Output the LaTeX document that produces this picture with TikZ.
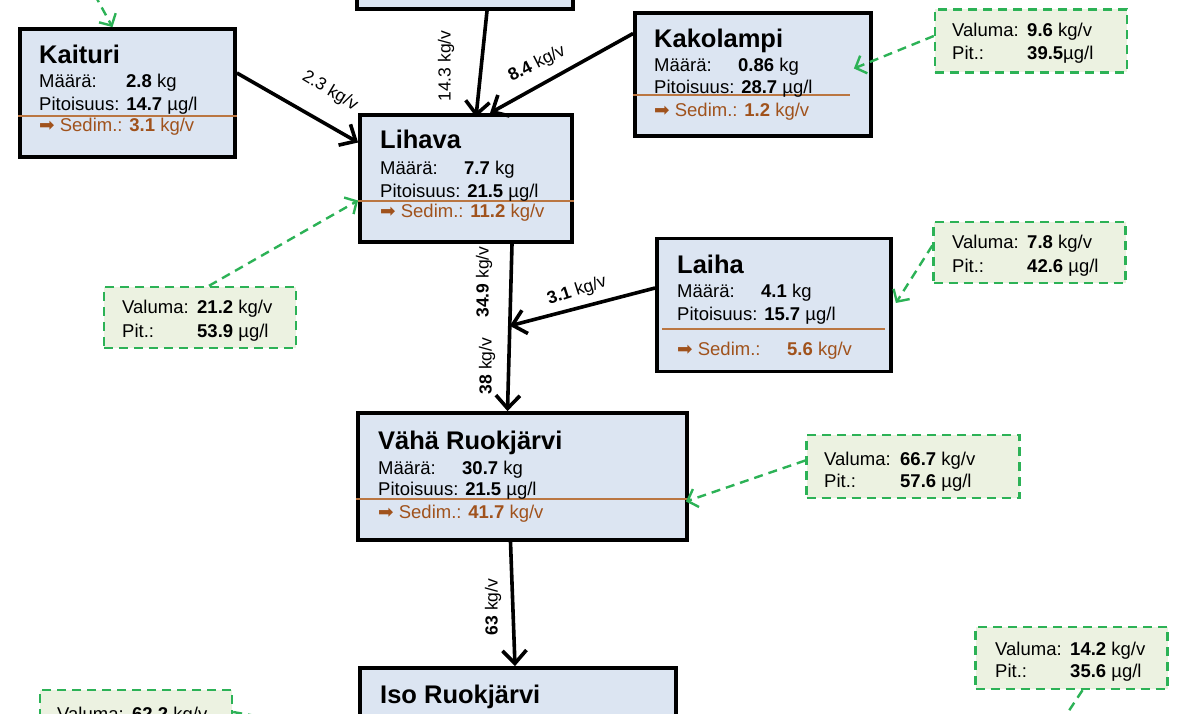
\documentclass[tikz,border=0pt]{standalone}
\usepackage{fontspec}
\setmainfont{Liberation Sans}
\newfontfamily\dingfont{DejaVu Sans}
\usetikzlibrary{arrows.meta,calc}
\definecolor{lakeblue}{RGB}{220,229,242}
\definecolor{sedimbrown}{RGB}{160,82,28}
\definecolor{sedimline}{RGB}{186,118,66}
\definecolor{runoffgreen}{RGB}{44,178,86}
\definecolor{runofffill}{RGB}{236,242,225}
\newcommand{\sedarrow}{{\dingfont ➡}}
\tikzset{
  lake/.style={draw,line width=3.8pt,fill=lakeblue,rectangle,inner sep=0pt},
  runoff/.style={draw=runoffgreen,dash pattern=on 9pt off 6pt,line width=2.4pt,fill=runofffill,rectangle,inner sep=0pt},
  lakename/.style={anchor=base west,inner sep=0pt,font=\fontsize{25.5}{29}\selectfont\bfseries},
  lakeinfo/.style={anchor=base west,inner sep=0pt,font=\fontsize{18.5}{21}\selectfont},
  sedim/.style={lakeinfo,text=sedimbrown},
  sedimrule/.style={sedimline,line width=1.5pt},
  flow/.style={line width=3.6pt,-{Straight Barb[length=13pt,width=24pt]}},
  runoffarrow/.style={runoffgreen,line width=2.4pt,dash pattern=on 9pt off 6pt,-{Straight Barb[length=9pt,width=19pt]}},
  flowlabel/.style={inner sep=0pt,font=\fontsize{17.5}{20}\selectfont}
}
\begin{document}
\begin{tikzpicture}[x=1pt,y=-1pt]
\useasboundingbox (0,0) rectangle (1188,714);
\clip (0,0) rectangle (1188,714);
% lakes
\node[lake,minimum width=216pt,minimum height=118pt] (upper) at (465,-50) {};
\node[lake,minimum width=215pt,minimum height=128pt] (kaituri) at (127.5,93) {};
\node[lake,minimum width=212pt,minimum height=127pt] (lihava) at (466,178.5) {};
\node[lake,minimum width=236pt,minimum height=123pt] (kakolampi) at (753,74.5) {};
\node[lake,minimum width=234pt,minimum height=133pt] (laiha) at (774,305) {};
\node[lake,minimum width=329pt,minimum height=127pt] (vaha) at (522.5,476.5) {};
\node[lake,minimum width=316pt,minimum height=132pt] (iso) at (518,734) {};
% sedimentation rules
\draw[sedimrule] (kaituri.west |- 0,116) -- (kaituri.east |- 0,116);
\draw[sedimrule] (lihava.west |- 0,201) -- (lihava.east |- 0,201);
\draw[sedimrule] (kakolampi.west |- 0,95) -- (850,95);
\draw[sedimrule] (662,329) -- (885,329);
\draw[sedimrule] (vaha.west |- 0,499) -- (vaha.east |- 0,499);
% lake texts
\node[lakename] (kaituri-n) at (39,64) {Kaituri};
\node[lakeinfo] (kaituri-m) at (39,88) {\makebox[87pt][l]{Määrä:}\textbf{2.8} kg};
\node[lakeinfo] (kaituri-p) at (39,111) {Pitoisuus: \textbf{14.7} µg/l};
\node[sedim] (kaituri-s) at (39,132) {\sedarrow{} Sedim.: \textbf{3.1} kg/v};
\node[lakename] (lihava-n) at (380,149) {Lihava};
\node[lakeinfo] (lihava-m) at (380,175) {\makebox[84pt][l]{Määrä:}\textbf{7.7} kg};
\node[lakeinfo] (lihava-p) at (380,197) {Pitoisuus: \textbf{21.5} µg/l};
\node[sedim] (lihava-s) at (380,218) {\sedarrow{} Sedim.: \textbf{11.2} kg/v};
\node[lakename] (kakolampi-n) at (654,48) {Kakolampi};
\node[lakeinfo] (kakolampi-m) at (654,72) {\makebox[84pt][l]{Määrä:}\textbf{0.86} kg};
\node[lakeinfo] (kakolampi-p) at (654,94) {Pitoisuus: \textbf{28.7} µg/l};
\node[sedim] (kakolampi-s) at (654,117) {\sedarrow{} Sedim.: \textbf{1.2} kg/v};
\node[lakename] (laiha-n) at (677,273) {Laiha};
\node[lakeinfo] (laiha-m) at (677,297) {\makebox[84pt][l]{Määrä:}\textbf{4.1} kg};
\node[lakeinfo] (laiha-p) at (677,320) {Pitoisuus: \textbf{15.7} µg/l};
\node[sedim] (laiha-s) at (677,355) {\makebox[110pt][l]{\sedarrow{} Sedim.:}\textbf{5.6} kg/v};
\node[lakename] (vaha-n) at (378,449) {Vähä Ruokjärvi};
\node[lakeinfo] (vaha-m) at (378,474) {\makebox[84pt][l]{Määrä:}\textbf{30.7} kg};
\node[lakeinfo] (vaha-p) at (378,495) {Pitoisuus: \textbf{21.5} µg/l};
\node[sedim] (vaha-s) at (378,518) {\sedarrow{} Sedim.: \textbf{41.7} kg/v};
\node[lakename] (iso-n) at (380,703) {Iso Ruokjärvi};
% runoff boxes
\node[runoff,minimum width=192pt,minimum height=63pt] (run96) at (1031,41) {};
\node[runoff,minimum width=192pt,minimum height=61pt] (run78) at (1029.5,252.5) {};
\node[runoff,minimum width=192pt,minimum height=61pt] (run212) at (200,317.5) {};
\node[runoff,minimum width=213pt,minimum height=63pt] (run667) at (913,466.5) {};
\node[runoff,minimum width=192pt,minimum height=62pt] (run142) at (1071.5,658) {};
\node[runoff,minimum width=192pt,minimum height=62pt] (run622) at (136,721) {};
\node[lakeinfo] (run96-v) at (952,37) {\makebox[75pt][l]{Valuma:}\textbf{9.6} kg/v};
\node[lakeinfo] (run96-p) at (952,60) {\makebox[75pt][l]{Pit.:}\textbf{39.5}µg/l};
\node[lakeinfo] (run78-v) at (952,248) {\makebox[75pt][l]{Valuma:}\textbf{7.8} kg/v};
\node[lakeinfo] (run78-p) at (952,272) {\makebox[75pt][l]{Pit.:}\textbf{42.6} µg/l};
\node[lakeinfo] (run212-v) at (122,313) {\makebox[75pt][l]{Valuma:}\textbf{21.2} kg/v};
\node[lakeinfo] (run212-p) at (122,337) {\makebox[75pt][l]{Pit.:}\textbf{53.9} µg/l};
\node[lakeinfo] (run667-v) at (824,465) {\makebox[76pt][l]{Valuma:}\textbf{66.7} kg/v};
\node[lakeinfo] (run667-p) at (824,487) {\makebox[76pt][l]{Pit.:}\textbf{57.6} µg/l};
\node[lakeinfo] (run142-v) at (995,655) {\makebox[75pt][l]{Valuma:}\textbf{14.2} kg/v};
\node[lakeinfo] (run142-p) at (995,677) {\makebox[75pt][l]{Pit.:}\textbf{35.6} µg/l};
\node[lakeinfo] (run622-v) at (57,720) {\makebox[75pt][l]{Valuma:}\textbf{62.2} kg/v};
% flows between lakes
\draw[flow] ([xshift=22pt]upper.south) -- ([xshift=10pt,yshift=-4pt]lihava.north);
\draw[flow] ([yshift=20pt]kaituri.east) -- ([yshift=36pt]lihava.west);
\draw[flow] ([yshift=41pt]kakolampi.west) -- ([xshift=24pt]lihava.north);
\draw[flow] ([xshift=46pt]lihava.south) -- coordinate[pos=0.49] (merge) ([xshift=-15pt]vaha.north);
\draw[flow] ([yshift=17pt]laiha.west) -- (merge);
\draw[flow] ([xshift=-12pt]vaha.south) -- ([xshift=-3pt]iso.north);
\node[flowlabel,rotate=90] (upper-l) at (446,66) {14.3 kg/v};
\node[flowlabel,rotate=-31] (kaituri-l) at (330,91) {2.3 kg/v};
\node[flowlabel,rotate=27] (kakolampi-l) at (537,64) {\textbf{8.4} kg/v};
\node[flowlabel,rotate=18] (laiha-l) at (577,291) {\textbf{3.1} kg/v};
\node[flowlabel,rotate=90] (lihava-l) at (484,282) {\textbf{34.9} kg/v};
\node[flowlabel,rotate=90] (merge-l) at (487,366) {\textbf{38} kg/v};
\node[flowlabel,rotate=90] (vaha-l) at (493,607) {\textbf{63} kg/v};
% runoff arrows
\coordinate (kaituri-in) at (80,-32);
\coordinate (run142-out) at (1035,762);
\draw[runoffarrow] (kaituri-in) -- ([xshift=-15pt]kaituri.north);
\draw[runoffarrow] ([yshift=5pt]run96.west) -- ([xshift=-19pt,yshift=6pt]kakolampi.east);
\draw[runoffarrow] ([xshift=9pt]run212.north) -- ([yshift=-22pt]lihava.west);
\draw[runoffarrow] ([yshift=7pt]run78.west) -- ([xshift=3pt,yshift=2pt]laiha.east);
\draw[runoffarrow] ([yshift=6pt]run667.west) -- ([xshift=-3pt,yshift=-25pt]vaha.east);
\draw[runoffarrow] ([xshift=11pt]run142.south) -- (run142-out);
\draw[runoffarrow] ([yshift=9pt]run622.east) -- (iso.west);
\end{tikzpicture}
\end{document}
